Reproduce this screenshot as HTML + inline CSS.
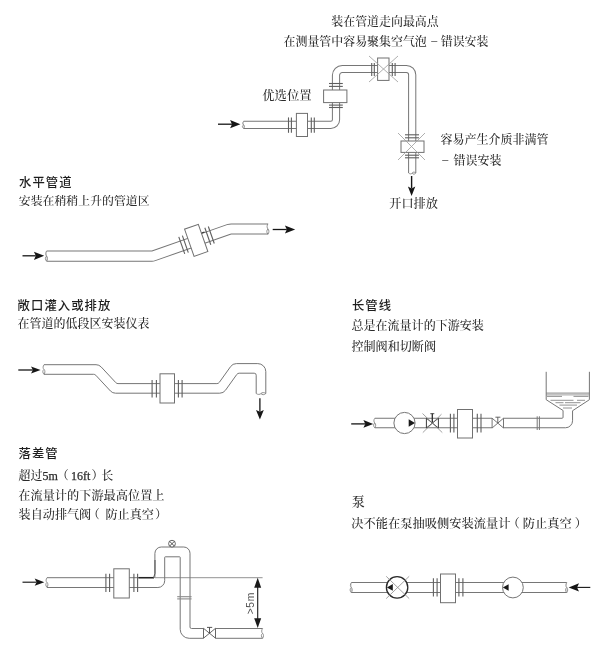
<!DOCTYPE html>
<html lang="zh-CN"><head><meta charset="utf-8"><title>电磁流量计安装位置</title>
<style>
html,body{margin:0;padding:0;background:#fff;}
body{width:615px;height:659px;overflow:hidden;}
svg{display:block;filter:blur(0.4px);}
svg text{white-space:pre;}
</style></head><body>
<svg width="615" height="659" viewBox="0 0 615 659">
<rect width="615" height="659" fill="#fff"/>
<path d="M243.60,124.90 L330.80,124.90 A5.20,5.20 0 0 0 336.00,119.70 L336.00,75.30 A6.30,6.30 0 0 1 342.30,69.00 L406.40,69.00 A5.80,5.80 0 0 1 412.20,74.80 L412.20,173.00" fill="none" stroke="#767676" stroke-width="8.20" stroke-linejoin="round"/>
<path d="M243.60,124.90 L330.80,124.90 A5.20,5.20 0 0 0 336.00,119.70 L336.00,75.30 A6.30,6.30 0 0 1 342.30,69.00 L406.40,69.00 A5.80,5.80 0 0 1 412.20,74.80 L412.20,173.00" fill="none" stroke="#fff" stroke-width="6.20" stroke-linejoin="round"/>
<path d="M243.6,121.3 C242.4,122.8 242.4,123.9 243.6,124.9 C244.79999999999998,125.9 244.79999999999998,127.0 243.6,128.5 C242.0,127.0 242.0,125.9 243.6,124.9" fill="none" stroke="#767676" stroke-width="0.8"/>
<path d="M408.6,173 C410.1,174.2 411.20000000000005,174.2 412.20000000000005,173 C413.20000000000005,171.8 414.3,171.8 415.8,173 C414.3,174.6 413.20000000000005,174.6 412.20000000000005,173" fill="none" stroke="#767676" stroke-width="0.8"/>
<line x1="288.5" y1="117.4" x2="288.5" y2="132.8" stroke="#5e5e5e" stroke-width="1.1"/>
<line x1="291.4" y1="117.4" x2="291.4" y2="132.8" stroke="#5e5e5e" stroke-width="1.1"/>
<line x1="311.3" y1="117.4" x2="311.3" y2="132.8" stroke="#5e5e5e" stroke-width="1.1"/>
<line x1="314.3" y1="117.4" x2="314.3" y2="132.8" stroke="#5e5e5e" stroke-width="1.1"/>
<rect x="296.4" y="113.4" width="11.10" height="23.10" fill="#fff" stroke="#707070" stroke-width="1.0"/>
<line x1="329" y1="83.5" x2="342.8" y2="83.5" stroke="#5e5e5e" stroke-width="1.1"/>
<line x1="329" y1="86.4" x2="342.8" y2="86.4" stroke="#5e5e5e" stroke-width="1.1"/>
<line x1="329" y1="105.1" x2="342.8" y2="105.1" stroke="#5e5e5e" stroke-width="1.1"/>
<line x1="329" y1="107.5" x2="342.8" y2="107.5" stroke="#5e5e5e" stroke-width="1.1"/>
<rect x="323.6" y="90" width="23.30" height="12.60" fill="#fff" stroke="#707070" stroke-width="1.0"/>
<line x1="371.7" y1="63" x2="371.7" y2="76" stroke="#5e5e5e" stroke-width="1.1"/>
<line x1="374.3" y1="63" x2="374.3" y2="76" stroke="#5e5e5e" stroke-width="1.1"/>
<line x1="392.3" y1="63" x2="392.3" y2="76" stroke="#5e5e5e" stroke-width="1.1"/>
<line x1="395.1" y1="63" x2="395.1" y2="76" stroke="#5e5e5e" stroke-width="1.1"/>
<rect x="377.6" y="58" width="11.40" height="22.40" fill="#fff" stroke="#707070" stroke-width="1.0"/>
<line x1="405" y1="134.8" x2="419" y2="134.8" stroke="#5e5e5e" stroke-width="1.1"/>
<line x1="405" y1="137.8" x2="419" y2="137.8" stroke="#5e5e5e" stroke-width="1.1"/>
<line x1="405" y1="155.2" x2="419" y2="155.2" stroke="#5e5e5e" stroke-width="1.1"/>
<line x1="405" y1="157.8" x2="419" y2="157.8" stroke="#5e5e5e" stroke-width="1.1"/>
<rect x="401" y="141" width="23.00" height="11.40" fill="#fff" stroke="#707070" stroke-width="1.0"/>
<line x1="369" y1="56" x2="398" y2="82" stroke="#9a9a9a" stroke-width="0.8"/>
<line x1="398" y1="56" x2="369" y2="82" stroke="#9a9a9a" stroke-width="0.8"/>
<line x1="398" y1="133" x2="425" y2="160" stroke="#9a9a9a" stroke-width="0.8"/>
<line x1="425" y1="133" x2="398" y2="160" stroke="#9a9a9a" stroke-width="0.8"/>
<line x1="218" y1="124.2" x2="232.0" y2="124.2" stroke="#161616" stroke-width="1.3"/>
<polygon points="240.4,124.2 230.10,128.30 232.00,124.20 230.10,120.10" fill="#161616"/>
<line x1="411.6" y1="176" x2="411.6" y2="188.5" stroke="#161616" stroke-width="1.4"/>
<polygon points="411.6,196 407.90,186.60 411.60,188.50 415.30,186.60" fill="#161616"/>
<text x="331.3" y="25.9" font-family='"Liberation Serif","Noto Serif CJK SC",serif' font-size="11.95" font-weight="500" fill="#2b2b2b" >装在管道走向最高点</text>
<text x="283.5" y="46" font-family='"Liberation Serif","Noto Serif CJK SC",serif' font-size="11.95" font-weight="500" fill="#2b2b2b" >在测量管中容易聚集空气泡 <tspan dx="1.6" dy="-2">–</tspan><tspan dy="2" dx="0.4"> 错误安装</tspan></text>
<text x="262.2" y="100.3" font-family='"Liberation Serif","Noto Serif CJK SC",serif' font-size="12.4" font-weight="500" fill="#2b2b2b" >优选位置</text>
<text x="440.6" y="144.2" font-family='"Liberation Serif","Noto Serif CJK SC",serif' font-size="12" font-weight="500" fill="#2b2b2b" >容易产生介质非满管</text>
<text x="442.3" y="165.2" font-family='"Liberation Serif","Noto Serif CJK SC",serif' font-size="12" font-weight="500" fill="#2b2b2b" ><tspan dy="-2">–</tspan><tspan dy="2" dx="2.3"> 错误安装</tspan></text>
<text x="389.3" y="208.4" font-family='"Liberation Serif","Noto Serif CJK SC",serif' font-size="12.15" font-weight="500" fill="#2b2b2b" >开口排放</text>
<text x="19.1" y="187.4" font-family='"Liberation Sans","Noto Sans CJK SC",sans-serif' font-size="12.3" font-weight="500" fill="#1e1e1e" letter-spacing="1.05">水平管道</text>
<text x="18.8" y="205.4" font-family='"Liberation Serif","Noto Serif CJK SC",serif' font-size="11.9" font-weight="500" fill="#2b2b2b" >安装在稍稍上升的管道区</text>
<path d="M46.60,256.10 L151.95,256.10 A5.00,5.00 0 0 0 153.60,255.82 L228.71,229.45 A8.00,8.00 0 0 1 231.36,229.00 L268.00,229.00" fill="none" stroke="#767676" stroke-width="11.20" stroke-linejoin="round"/>
<path d="M46.60,256.10 L151.95,256.10 A5.00,5.00 0 0 0 153.60,255.82 L228.71,229.45 A8.00,8.00 0 0 1 231.36,229.00 L268.00,229.00" fill="none" stroke="#fff" stroke-width="9.20" stroke-linejoin="round"/>
<path d="M46.6,251 C45.4,252.5 45.4,255.10000000000002 46.6,256.1 C47.800000000000004,257.1 47.800000000000004,259.7 46.6,261.2 C45.0,259.7 45.0,257.1 46.6,256.1" fill="none" stroke="#767676" stroke-width="0.8"/>
<path d="M268,223.8 C266.8,225.3 266.8,228.0 268,229.0 C269.2,230.0 269.2,232.7 268,234.2 C266.40000000000003,232.7 266.40000000000003,230.0 268,229.0" fill="none" stroke="#767676" stroke-width="0.8"/>
<g transform="translate(196.2,240.3) rotate(-19.3)">
<line x1="-15.3" y1="-9" x2="-15.3" y2="9" stroke="#5e5e5e" stroke-width="1.1"/>
<line x1="-11.5" y1="-9" x2="-11.5" y2="9" stroke="#5e5e5e" stroke-width="1.1"/>
<line x1="12.3" y1="-9" x2="12.3" y2="9" stroke="#5e5e5e" stroke-width="1.1"/>
<line x1="16" y1="-9" x2="16" y2="9" stroke="#5e5e5e" stroke-width="1.1"/>
<rect x="-7.3" y="-14.4" width="14.60" height="28.80" fill="#fff" stroke="#707070" stroke-width="1.0"/>
<line x1="7.6" y1="-5.1" x2="10.6" y2="-5.1" stroke="#333" stroke-width="1.2"/>
</g>
<line x1="22.5" y1="255.8" x2="35.8" y2="255.8" stroke="#161616" stroke-width="1.3"/>
<polygon points="44.2,255.8 33.90,259.90 35.80,255.80 33.90,251.70" fill="#161616"/>
<line x1="272.7" y1="229.5" x2="286.8" y2="229.5" stroke="#161616" stroke-width="1.3"/>
<polygon points="295.2,229.5 284.90,233.60 286.80,229.50 284.90,225.40" fill="#161616"/>
<text x="17.6" y="309.5" font-family='"Liberation Sans","Noto Sans CJK SC",sans-serif' font-size="12.3" font-weight="500" fill="#1e1e1e" letter-spacing="1.1">敞口灌入或排放</text>
<text x="17.5" y="328.3" font-family='"Liberation Serif","Noto Serif CJK SC",serif' font-size="12" font-weight="500" fill="#2b2b2b" >在管道的低段区安装仪表</text>
<path d="M44.00,374.30 L93.61,374.30 A3.00,3.00 0 0 1 95.80,375.26 L110.43,390.97 A7.00,7.00 0 0 0 115.56,393.20 L219.77,393.20 A7.00,7.00 0 0 0 225.46,390.27 L236.77,374.46 A3.00,3.00 0 0 1 239.21,373.20 L254.20,373.20 A2.00,2.00 0 0 1 256.20,375.20 L256.20,393.50 L265.80,393.50 L265.80,371.60 A8.00,8.00 0 0 0 257.80,363.60 L236.33,363.60 A7.00,7.00 0 0 0 230.64,366.53 L219.33,382.34 A3.00,3.00 0 0 1 216.89,383.60 L117.99,383.60 A3.00,3.00 0 0 1 115.80,382.64 L101.17,366.93 A7.00,7.00 0 0 0 96.04,364.70 L44.00,364.70 Z" fill="#fff" stroke="none"/>
<path d="M44.00,374.30 L93.61,374.30 A3.00,3.00 0 0 1 95.80,375.26 L110.43,390.97 A7.00,7.00 0 0 0 115.56,393.20 L219.77,393.20 A7.00,7.00 0 0 0 225.46,390.27 L236.77,374.46 A3.00,3.00 0 0 1 239.21,373.20 L254.20,373.20 A2.00,2.00 0 0 1 256.20,375.20 L256.20,393.50" fill="none" stroke="#767676" stroke-width="1.0"/>
<path d="M44.00,364.70 L96.04,364.70 A7.00,7.00 0 0 1 101.17,366.93 L115.80,382.64 A3.00,3.00 0 0 0 117.99,383.60 L216.89,383.60 A3.00,3.00 0 0 0 219.33,382.34 L230.64,366.53 A7.00,7.00 0 0 1 236.33,363.60 L257.80,363.60 A8.00,8.00 0 0 1 265.80,371.60 L265.80,393.50" fill="none" stroke="#767676" stroke-width="1.0"/>
<path d="M44,364.7 C42.8,366.2 42.8,368.5 44,369.5 C45.2,370.5 45.2,372.8 44,374.3 C42.4,372.8 42.4,370.5 44,369.5" fill="none" stroke="#767676" stroke-width="0.8"/>
<path d="M256.2,393.5 C257.7,394.7 260.0,394.7 261.0,393.5 C262.0,392.3 264.3,392.3 265.8,393.5 C264.3,395.09999999999997 262.0,395.09999999999997 261.0,393.5" fill="none" stroke="#767676" stroke-width="0.8"/>
<line x1="152.1" y1="380" x2="152.1" y2="397.5" stroke="#5e5e5e" stroke-width="1.1"/>
<line x1="156.4" y1="380" x2="156.4" y2="397.5" stroke="#5e5e5e" stroke-width="1.1"/>
<line x1="178.4" y1="380" x2="178.4" y2="397.5" stroke="#5e5e5e" stroke-width="1.1"/>
<line x1="182.1" y1="380" x2="182.1" y2="397.5" stroke="#5e5e5e" stroke-width="1.1"/>
<rect x="160" y="373.8" width="14.50" height="29.20" fill="#fff" stroke="#707070" stroke-width="1.0"/>
<line x1="18.3" y1="370" x2="32.9" y2="370.0" stroke="#161616" stroke-width="1.3"/>
<polygon points="40.6,370 31.00,373.50 32.90,370.00 31.00,366.50" fill="#161616"/>
<line x1="259.9" y1="398.3" x2="259.9" y2="411.8" stroke="#161616" stroke-width="1.3"/>
<polygon points="259.9,419.5 256.00,409.90 259.90,411.80 263.80,409.90" fill="#161616"/>
<text x="351.9" y="309.5" font-family='"Liberation Sans","Noto Sans CJK SC",sans-serif' font-size="12.3" font-weight="500" fill="#1e1e1e" letter-spacing="1.1">长管线</text>
<text x="351.4" y="330.4" font-family='"Liberation Serif","Noto Serif CJK SC",serif' font-size="12.05" font-weight="500" fill="#2b2b2b" >总是在流量计的下游安装</text>
<text x="351.4" y="350.5" font-family='"Liberation Serif","Noto Serif CJK SC",serif' font-size="12.1" font-weight="500" fill="#2b2b2b" >控制阀和切断阀</text>
<path d="M374.80,427.75 L565.55,427.75 A7.00,7.00 0 0 0 572.55,420.75 L572.55,410.50 L563.05,410.50 L563.05,417.25 A1.00,1.00 0 0 1 562.05,418.25 L374.80,418.25 Z" fill="#fff" stroke="none"/>
<path d="M374.80,427.75 L565.55,427.75 A7.00,7.00 0 0 0 572.55,420.75 L572.55,410.50" fill="none" stroke="#767676" stroke-width="1.0"/>
<path d="M374.80,418.25 L562.05,418.25 A1.00,1.00 0 0 0 563.05,417.25 L563.05,410.50" fill="none" stroke="#767676" stroke-width="1.0"/>
<path d="M374.8,418.25 C373.6,419.75 373.6,422.0 374.8,423.0 C376.0,424.0 376.0,426.25 374.8,427.75 C373.20000000000005,426.25 373.20000000000005,424.0 374.8,423.0" fill="none" stroke="#767676" stroke-width="0.8"/>
<circle cx="404.5" cy="423" r="10.6" fill="#fff" stroke="#767676" stroke-width="1"/>
<polygon points="415,423 408.7,419.3 408.7,426.7" fill="#1a1a1a"/>
<path d="M426.4,418.2 L438.4,428 V418.2 L426.4,428 Z" fill="#fff" stroke="#3a3a3a" stroke-width="1"/>
<line x1="432.3" y1="423.1" x2="432.3" y2="413.5" stroke="#2a2a2a" stroke-width="1.3"/>
<line x1="430.3" y1="413.7" x2="434.3" y2="413.7" stroke="#3a3a3a" stroke-width="0.9"/>
<line x1="422.5" y1="413.5" x2="442.3" y2="432.6" stroke="#8a8a8a" stroke-width="0.8"/>
<line x1="441.5" y1="414.2" x2="422.8" y2="432.6" stroke="#8a8a8a" stroke-width="0.8"/>
<line x1="450.4" y1="413.8" x2="450.4" y2="432.5" stroke="#5e5e5e" stroke-width="1.1"/>
<line x1="453.9" y1="413.8" x2="453.9" y2="432.5" stroke="#5e5e5e" stroke-width="1.1"/>
<line x1="477.3" y1="413.8" x2="477.3" y2="432.5" stroke="#5e5e5e" stroke-width="1.1"/>
<line x1="481" y1="413.8" x2="481" y2="432.5" stroke="#5e5e5e" stroke-width="1.1"/>
<rect x="457.5" y="409.5" width="15.00" height="28.50" fill="#fff" stroke="#707070" stroke-width="1.0"/>
<rect x="492.1" y="416.5" width="11.4" height="13" fill="#fff"/>
<path d="M492.1,418.2 L503.5,428 V418.2 L492.1,428 Z" fill="#fff" stroke="#666" stroke-width="0.9"/>
<line x1="497.8" y1="423.1" x2="497.8" y2="417.2" stroke="#555" stroke-width="0.9"/>
<line x1="495.4" y1="417.2" x2="500.4" y2="417.2" stroke="#555" stroke-width="0.9"/>
<line x1="537.2" y1="416.3" x2="537.2" y2="430" stroke="#767676" stroke-width="1.0"/>
<line x1="539.4" y1="416.3" x2="539.4" y2="430" stroke="#767676" stroke-width="1.0"/>
<path d="M546.2,371.8 V399.7 L563.1,410.5 M589.4,371.8 V399.7 L572.9,410.5" fill="none" stroke="#767676" stroke-width="1"/>
<line x1="546.2" y1="393.1" x2="589.4" y2="393.1" stroke="#767676" stroke-width="0.9"/>
<line x1="546.2" y1="394.9" x2="589.4" y2="394.9" stroke="#767676" stroke-width="0.7"/>
<line x1="547" y1="396.4" x2="562" y2="396.4" stroke="#767676" stroke-width="0.8"/>
<line x1="573.5" y1="396.4" x2="588.5" y2="396.4" stroke="#767676" stroke-width="0.8"/>
<line x1="550.5" y1="400.3" x2="573.5" y2="400.3" stroke="#767676" stroke-width="0.8"/>
<line x1="577" y1="400.3" x2="585" y2="400.3" stroke="#767676" stroke-width="0.8"/>
<line x1="555.5" y1="402.7" x2="563.5" y2="402.7" stroke="#767676" stroke-width="0.8"/>
<line x1="565" y1="402.7" x2="580.5" y2="402.7" stroke="#767676" stroke-width="0.8"/>
<line x1="559.5" y1="405.1" x2="577" y2="405.1" stroke="#767676" stroke-width="0.8"/>
<line x1="563" y1="408" x2="572" y2="408" stroke="#767676" stroke-width="0.8"/>
<line x1="351.2" y1="423.9" x2="365.3" y2="423.9" stroke="#161616" stroke-width="1.3"/>
<polygon points="373.2,423.9 363.40,427.70 365.30,423.90 363.40,420.10" fill="#161616"/>
<text x="18.5" y="458.2" font-family='"Liberation Sans","Noto Sans CJK SC",sans-serif' font-size="12.3" font-weight="500" fill="#1e1e1e" letter-spacing="1.1">落差管</text>
<text x="18.6" y="479.5" font-family='"Liberation Serif","Noto Serif CJK SC",serif' font-size="12" font-weight="500" fill="#2b2b2b" >超过<tspan font-weight="400" stroke="#2b2b2b" stroke-width="0.25">5m</tspan><tspan dx="-1.1">（</tspan><tspan dx="2.2" font-weight="400" stroke="#2b2b2b" stroke-width="0.25">16ft</tspan><tspan dx="1.2">）</tspan><tspan dx="-2.3">长</tspan></text>
<text x="18.3" y="499.6" font-family='"Liberation Serif","Noto Serif CJK SC",serif' font-size="12.2" font-weight="500" fill="#2b2b2b" >在流量计的下游最高位置上</text>
<text x="18.6" y="519" font-family='"Liberation Serif","Noto Serif CJK SC",serif' font-size="12.1" font-weight="500" fill="#2b2b2b" >装自动排气阀<tspan dx="-3.4">（</tspan><tspan dx="5.6">防止真空</tspan><tspan dx="1">）</tspan></text>
<path d="M47.00,587.50 L157.90,587.50 A6.80,6.80 0 0 0 164.70,580.70 L164.70,557.40 A0.60,0.60 0 0 1 165.30,556.80 L179.60,556.80 A0.60,0.60 0 0 1 180.20,557.40 L180.20,629.30 A9.00,9.00 0 0 0 189.20,638.30 L262.60,638.30 L262.60,628.50 L191.50,628.50 A1.50,1.50 0 0 1 190.00,627.00 L190.00,553.20 A6.20,6.20 0 0 0 183.80,547.00 L161.30,547.00 A6.40,6.40 0 0 0 154.90,553.40 L154.90,576.70 A1.00,1.00 0 0 1 153.90,577.70 L47.00,577.70 Z" fill="#fff" stroke="none"/>
<path d="M47.00,587.50 L157.90,587.50 A6.80,6.80 0 0 0 164.70,580.70 L164.70,557.40 A0.60,0.60 0 0 1 165.30,556.80 L179.60,556.80 A0.60,0.60 0 0 1 180.20,557.40 L180.20,629.30 A9.00,9.00 0 0 0 189.20,638.30 L262.60,638.30" fill="none" stroke="#767676" stroke-width="1.0"/>
<path d="M47.00,577.70 L153.90,577.70 A1.00,1.00 0 0 0 154.90,576.70 L154.90,553.40 A6.40,6.40 0 0 1 161.30,547.00 L183.80,547.00 A6.20,6.20 0 0 1 190.00,553.20 L190.00,627.00 A1.50,1.50 0 0 0 191.50,628.50 L262.60,628.50" fill="none" stroke="#767676" stroke-width="1.0"/>
<path d="M47,577.7 C45.8,579.2 45.8,581.5 47,582.5 C48.2,583.5 48.2,585.8 47,587.3 C45.4,585.8 45.4,583.5 47,582.5" fill="none" stroke="#767676" stroke-width="0.8"/>
<path d="M262.6,628.5 C261.40000000000003,630.0 261.40000000000003,632.4 262.6,633.4 C263.8,634.4 263.8,636.8 262.6,638.3 C261.00000000000006,636.8 261.00000000000006,634.4 262.6,633.4" fill="none" stroke="#767676" stroke-width="0.8"/>
<line x1="105.9" y1="573.8" x2="105.9" y2="592" stroke="#5e5e5e" stroke-width="1.1"/>
<line x1="109.6" y1="573.8" x2="109.6" y2="592" stroke="#5e5e5e" stroke-width="1.1"/>
<line x1="133.9" y1="573.8" x2="133.9" y2="592" stroke="#5e5e5e" stroke-width="1.1"/>
<line x1="137.6" y1="573.8" x2="137.6" y2="592" stroke="#5e5e5e" stroke-width="1.1"/>
<rect x="113.8" y="568.8" width="15.50" height="29.20" fill="#fff" stroke="#707070" stroke-width="1.0"/>
<line x1="177.2" y1="596.7" x2="191.6" y2="596.7" stroke="#8a8a8a" stroke-width="1.1"/>
<line x1="177.2" y1="598.9" x2="191.6" y2="598.9" stroke="#8a8a8a" stroke-width="1.1"/>
<line x1="155" y1="577.7" x2="262.6" y2="577.7" stroke="#767676" stroke-width="0.8"/>
<path d="M138.5,577.7 H154" fill="none" stroke="#222" stroke-width="1.5"/>
<path d="M153.5,577.9 L155,573.5 V560" fill="none" stroke="#555" stroke-width="1"/>
<circle cx="172" cy="543.7" r="3.4" fill="#fff" stroke="#555" stroke-width="0.9"/>
<line x1="169.7" y1="541.4" x2="174.3" y2="546" stroke="#444" stroke-width="0.9"/>
<line x1="174.3" y1="541.4" x2="169.7" y2="546" stroke="#444" stroke-width="0.9"/>
<rect x="203.5" y="626.5" width="12" height="13" fill="#fff"/>
<path d="M203.5,628.3 L215.5,638.2 V628.3 L203.5,638.2 Z" fill="#fff" stroke="#555" stroke-width="0.9"/>
<line x1="209.5" y1="633.2" x2="209.5" y2="627.4" stroke="#444" stroke-width="0.9"/>
<line x1="207" y1="627.4" x2="212.2" y2="627.4" stroke="#444" stroke-width="0.9"/>
<line x1="257.7" y1="586" x2="257.7" y2="620" stroke="#1a1a1a" stroke-width="1.1"/>
<polygon points="257.7,577.7 254.2,587.8 261.2,587.8" fill="#1a1a1a"/>
<polygon points="257.7,628.1 254.2,618.2 261.2,618.2" fill="#1a1a1a"/>
<text transform="translate(253.8,614.2) rotate(-90)" font-family='"Liberation Sans","Noto Sans CJK SC",sans-serif' font-size="10.3" letter-spacing="0.55" fill="#505050">&gt;5m</text>
<line x1="22.5" y1="582.2" x2="36.6" y2="582.2" stroke="#161616" stroke-width="1.15"/>
<polygon points="44.3,582.2 34.70,585.80 36.60,582.20 34.70,578.60" fill="#161616"/>
<text x="351.8" y="505.5" font-family='"Liberation Serif","Noto Serif CJK SC",serif' font-size="13" font-weight="500" fill="#2b2b2b" >泵</text>
<text x="351.2" y="528.4" font-family='"Liberation Serif","Noto Serif CJK SC",serif' font-size="12.25" font-weight="500" fill="#2b2b2b" >决不能在泵抽吸侧安装流量计<tspan dx="-3">（</tspan><tspan dx="3">防止真空</tspan><tspan dx="3">）</tspan></text>
<path d="M351.3,587.6 H566.8" fill="none" stroke="#767676" stroke-width="11.00" stroke-linejoin="round"/>
<path d="M351.3,587.6 H566.8" fill="none" stroke="#fff" stroke-width="9.00" stroke-linejoin="round"/>
<path d="M351.3,582.6 C350.1,584.1 350.1,586.6 351.3,587.6 C352.5,588.6 352.5,591.1 351.3,592.6 C349.70000000000005,591.1 349.70000000000005,588.6 351.3,587.6" fill="none" stroke="#767676" stroke-width="0.8"/>
<path d="M566.8,582.6 C565.5999999999999,584.1 565.5999999999999,586.6 566.8,587.6 C568.0,588.6 568.0,591.1 566.8,592.6 C565.1999999999999,591.1 565.1999999999999,588.6 566.8,587.6" fill="none" stroke="#767676" stroke-width="0.8"/>
<circle cx="397.1" cy="587.4" r="10.7" fill="#fff" stroke="#2a2a2a" stroke-width="1.3"/>
<line x1="386.2" y1="576.3" x2="409.2" y2="598.6" stroke="#8a8a8a" stroke-width="0.8"/>
<line x1="409.2" y1="576.3" x2="386.2" y2="598.6" stroke="#8a8a8a" stroke-width="0.8"/>
<polygon points="386.9,587.4 392.8,584 392.8,590.8" fill="#1a1a1a"/>
<line x1="433.4" y1="578.3" x2="433.4" y2="596.6" stroke="#5e5e5e" stroke-width="1.1"/>
<line x1="437.1" y1="578.3" x2="437.1" y2="596.6" stroke="#5e5e5e" stroke-width="1.1"/>
<line x1="458.9" y1="578.3" x2="458.9" y2="596.6" stroke="#5e5e5e" stroke-width="1.1"/>
<line x1="462.9" y1="578.3" x2="462.9" y2="596.6" stroke="#5e5e5e" stroke-width="1.1"/>
<rect x="440.5" y="574" width="15.00" height="28.70" fill="#fff" stroke="#707070" stroke-width="1.0"/>
<circle cx="512.9" cy="587.5" r="10.4" fill="#fff" stroke="#767676" stroke-width="1"/>
<polygon points="502.8,587.5 508.6,584.3 508.6,590.7" fill="#1a1a1a"/>
<line x1="590.3" y1="587.4" x2="577.1" y2="587.4" stroke="#161616" stroke-width="1.1"/>
<polygon points="568.7,587.4 579.00,583.30 577.10,587.40 579.00,591.50" fill="#161616"/>
</svg>
</body></html>
